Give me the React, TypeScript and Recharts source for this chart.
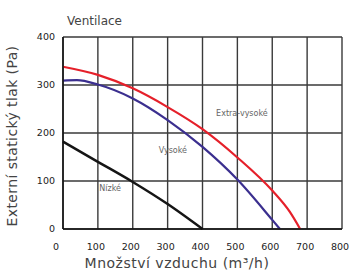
import { LineChart, Line, XAxis, YAxis, CartesianGrid, ReferenceDot } from "recharts";

// airflow (m3/h) and pressure (Pa)
const extraFlow = [0, 100, 200, 300, 400, 500, 600, 650, 680];
const extraPressure = [338, 321, 293, 254, 208, 149, 80, 36, 0];

const highFlow = [0, 40, 100, 200, 300, 400, 500, 600, 622];
const highPressure = [309, 310, 301, 272, 227, 171, 103, 19, 0];

const lowFlow = [0, 100, 200, 300, 400];
const lowPressure = [182, 140, 98, 52, 0];

const xTicks = [0, 100, 200, 300, 400, 500, 600, 700, 800];
const yTicks = [0, 100, 200, 300, 400];

const toRows = (flow: number[], pressure: number[]) =>
  flow.map((q, i) => ({ q, p: pressure[i] }));

const FONT = "'DejaVu Sans', sans-serif";

// eslint-disable-next-line @typescript-eslint/no-explicit-any
function XTick({ x, y, payload }: any) {
  const shift = payload.value === 0 ? -7 : -2;
  return (
    <text x={x + shift} y={y + 10} dy="0.35em" textAnchor="middle" fontSize={9.5} fill="#222" fontFamily={FONT}>
      {payload.value}
    </text>
  );
}

// eslint-disable-next-line @typescript-eslint/no-explicit-any
function YTick({ x, y, payload }: any) {
  return (
    <text x={x} y={y} dy="0.35em" textAnchor="end" fontSize={9.5} fill="#222" fontFamily={FONT}>
      {payload.value}
    </text>
  );
}

export default function App() {
  return (
    <div style={{ position: "absolute", left: 0, top: 0, width: 354, height: 273, background: "#fff" }}>
      <LineChart width={354} height={273} margin={{ top: 37, right: 12, bottom: 0, left: 0 }}>
        <CartesianGrid stroke="#3a3a3a" strokeWidth={1.4} />
        <XAxis
          type="number"
          dataKey="q"
          domain={[0, 800]}
          ticks={xTicks}
          interval={0}
          height={44}
          tick={<XTick />}
          tickLine={false}
          axisLine={{ stroke: "#111", strokeWidth: 1.5 }}
          allowDuplicatedCategory={false}
          label={{
            content: () => (
              <text x={177} y={268} textAnchor="middle" fontSize={14} letterSpacing={0.5} fill="#444" fontFamily={FONT}>
                Množství vzduchu (m³/h)
              </text>
            ),
          }}
        />
        <YAxis
          type="number"
          domain={[0, 400]}
          ticks={yTicks}
          interval={0}
          width={63}
          tick={<YTick />}
          tickLine={false}
          axisLine={{ stroke: "#111", strokeWidth: 1.5 }}
          label={{
            content: () => (
              <text
                x={12}
                y={136}
                transform="rotate(-90 12 136)"
                textAnchor="middle"
                dy="0.35em"
                fontSize={14}
                letterSpacing={0.4}
                fill="#444"
                fontFamily={FONT}
              >
                Externí statický tlak (Pa)
              </text>
            ),
          }}
        />
        <Line
          data={toRows(lowFlow, lowPressure)}
          dataKey="p"
          type="monotone"
          stroke="#151515"
          strokeWidth={2.5}
          dot={false}
          isAnimationActive={false}
        />
        <Line
          data={toRows(highFlow, highPressure)}
          dataKey="p"
          type="monotone"
          stroke="#3b2f8f"
          strokeWidth={2.2}
          dot={false}
          isAnimationActive={false}
        />
        <Line
          data={toRows(extraFlow, extraPressure)}
          dataKey="p"
          type="monotone"
          stroke="#e5202a"
          strokeWidth={2.2}
          dot={false}
          isAnimationActive={false}
        />
        <ReferenceDot x={513} y={242} r={0} label={{ value: "Extra-vysoké", fontSize: 8, fill: "#666", fontFamily: FONT }} />
        <ReferenceDot x={315} y={165} r={0} label={{ value: "Vysoké", fontSize: 8, fill: "#666", fontFamily: FONT }} />
        <ReferenceDot x={135} y={85} r={0} label={{ value: "Nízké", fontSize: 8, fill: "#666", fontFamily: FONT }} />
        <text x={67} y={25} fontSize={12} fill="#444" fontFamily={FONT}>
          Ventilace
        </text>
      </LineChart>
    </div>
  );
}
